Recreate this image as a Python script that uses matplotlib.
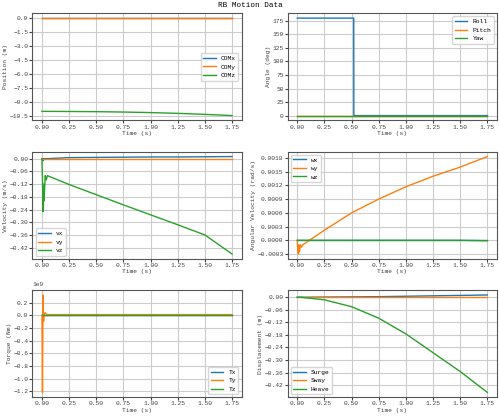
import numpy as np
import matplotlib.pyplot as plt
from matplotlib.ticker import MaxNLocator

plt.rcParams['font.family'] = ['Liberation Mono', 'DejaVu Sans Mono']
plt.rcParams['font.size'] = 4.5
plt.rcParams['axes.edgecolor'] = '#555555'
plt.rcParams['grid.color'] = '#cccccc'
plt.rcParams['axes.labelcolor'] = '#444444'
plt.rcParams['xtick.color'] = '#444444'
plt.rcParams['ytick.color'] = '#444444'

t = [0.0, 0.005, 0.01, 0.015, 0.02, 0.03, 0.04, 0.05, 0.25, 0.5, 0.75, 1.0, 1.25, 1.5, 1.75]

com_x = [0, 0, 0, 0, 0, 0, 0, 0, 0, 0, 0, 0, 0, 0, 0]
com_y = [0, 0, 0, 0, 0, 0, 0, 0, 0, 0, 0, 0, 0, 0, 0]
com_z = [-10.0, -10.0, -10.0, -10.0, -10.0, -10.0, -10.0, -10.0, -10.01, -10.03, -10.07, -10.13, -10.21, -10.32, -10.45]

roll_t = [0.0, 0.52, 0.521, 1.75]
roll = [180, 180, 0, 0]
pitch = [0, 0, 0, 0]
yaw = [0, 0, 0, 0]

vx = [0, 0.0, -0.01, 0.0, 0.0, 0.0, 0.0, 0.0, 0.005, 0.006, 0.007, 0.008, 0.008, 0.009, 0.01]
vy = [0, 0, 0, 0, 0, 0, 0, 0, 0, 0, 0, 0, 0, 0, 0]
vz = [0, -0.1, -0.25, -0.12, -0.2, -0.08, -0.1, -0.08, -0.122, -0.17, -0.218, -0.265, -0.312, -0.36, -0.45]

wx = [0, 0, 0, 0, 0, 0, 0, 0, 0, 0, 0, 0, 0, 0, 0]
wy = [0, -0.0002, -0.0003, -0.0001, -0.00025, -0.0001, -0.00015, -0.0001, 0.00022, 0.0006, 0.0009, 0.00117, 0.0014, 0.0016, 0.00183]
wz = [0, 0, 0, 0, 0, 0, 0, 0, 0, 0, 0, 0, 0, 0, -0.00001]

tx = [0, 0, 0, 0, 0, 0, 0, 0, 0, 0, 0, 0, 0, 0, 0]
ty = [0, -1.22e9, 0.32e9, -0.1e9, 0.02e9, 0.04e9, 0.02e9, 0.01e9, 0.01e9, 0.01e9, 0.01e9, 0.01e9, 0.01e9, 0.01e9, 0.01e9]
tz = [0, 0, 0, 0, 0, 0, 0, 0, 0, 0, 0, 0, 0, 0, 0]

surge = [0, 0, 0, 0, 0, 0, 0, 0, 0.001, 0.002, 0.003, 0.005, 0.007, 0.009, 0.011]
sway = [0, 0, 0, 0, 0, 0, 0, 0, 0, 0, 0, 0, 0, 0, 0]
heave = [0, 0, 0, 0, 0, 0, 0, -0.001, -0.012, -0.045, -0.1, -0.175, -0.265, -0.355, -0.455]

fig, axs = plt.subplots(3, 2, figsize=(5, 4.16), dpi=100)
fig.suptitle('RB Motion Data', fontsize=5.5, y=0.995)

def panel(ax, x, series, labels, ylabel, loc):
    for s, lab in zip(series, labels):
        ax.plot(x, s, label=lab, linewidth=1)
    ax.set_xlabel('Time (s)', labelpad=1)
    ax.set_ylabel(ylabel, labelpad=1)
    ax.grid(True, linewidth=0.8)
    ax.yaxis.set_major_locator(MaxNLocator(9))
    ax.legend(loc=loc, fontsize=4.5)
    ax.tick_params(pad=1, length=2)

panel(axs[0, 0], t, [com_x, com_y, com_z], ['COMx', 'COMy', 'COMz'], 'Position (m)', 'center right')
panel(axs[0, 1], roll_t, [roll, pitch, yaw], ['Roll', 'Pitch', 'Yaw'], 'Angle (deg)', 'upper right')
panel(axs[1, 0], t, [vx, vy, vz], ['vx', 'vy', 'vz'], 'Velocity (m/s)', 'lower left')
panel(axs[1, 1], t, [wx, wy, wz], ['wx', 'wy', 'wz'], 'Angular Velocity (rad/s)', 'upper left')
panel(axs[2, 0], t, [tx, ty, tz], ['Tx', 'Ty', 'Tz'], 'Torque (Nm)', 'lower right')
panel(axs[2, 1], t, [surge, sway, heave], ['Surge', 'Sway', 'Heave'], 'Displacement (m)', 'lower left')

fig.tight_layout(pad=0.5, h_pad=1.2, w_pad=1.5)
fig.savefig('out.png')
